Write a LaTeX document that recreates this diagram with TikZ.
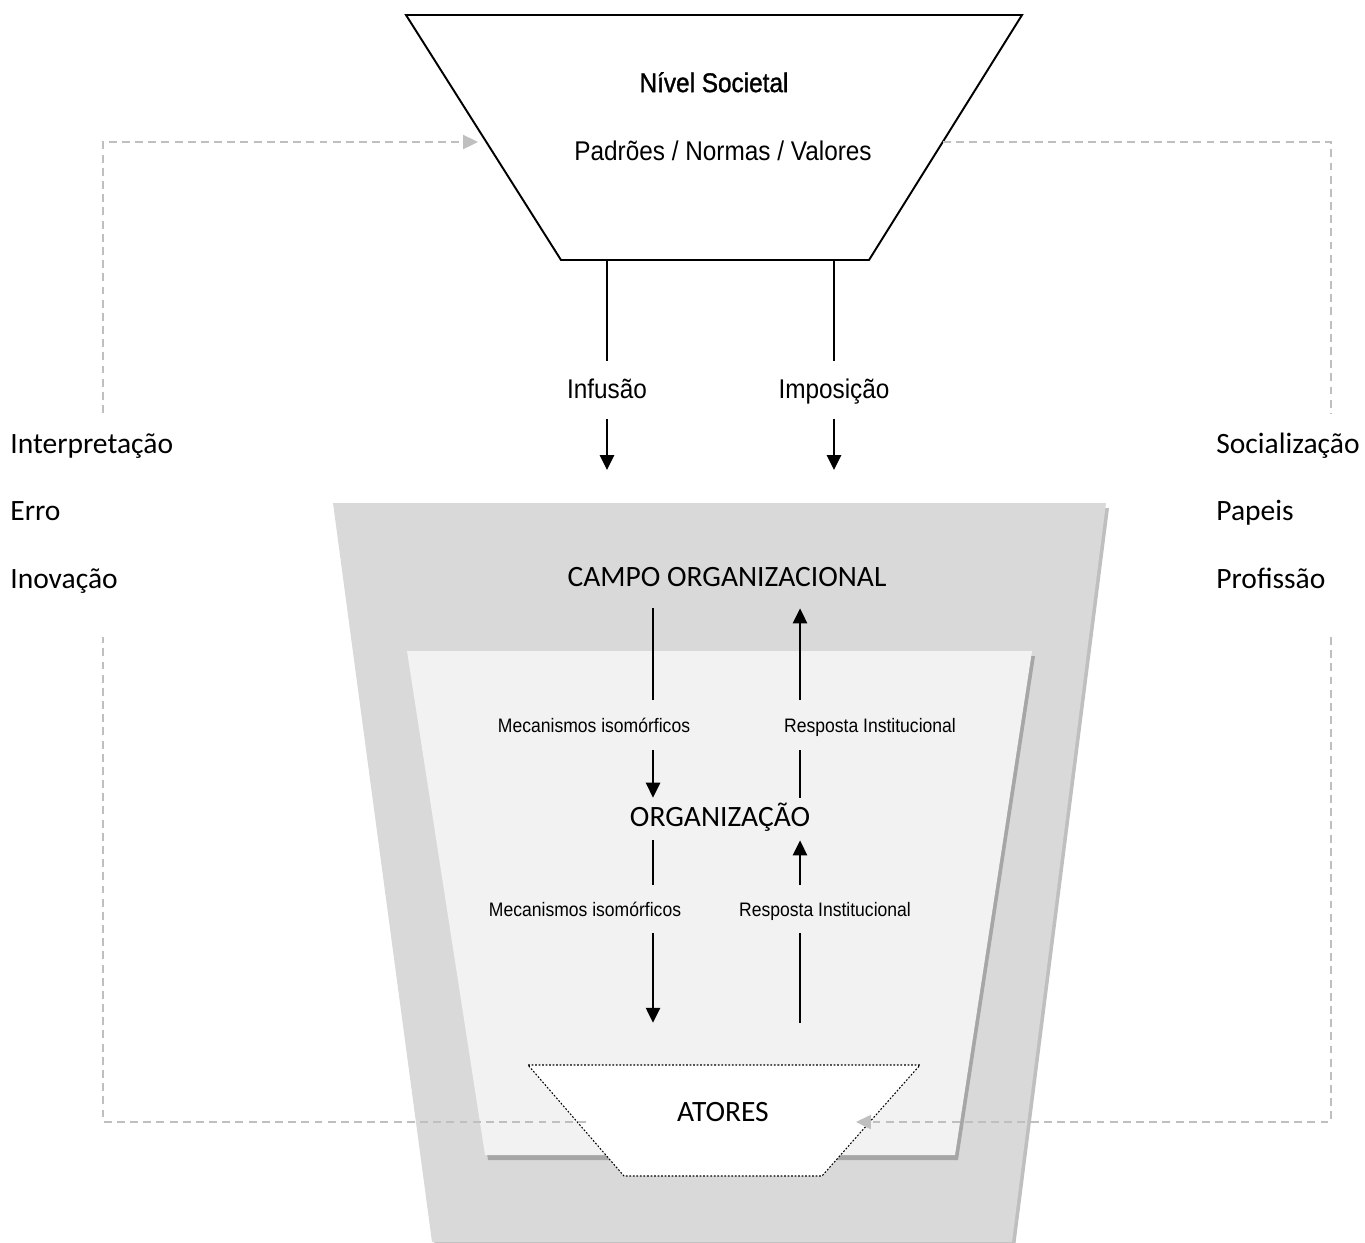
\documentclass[tikz,border=0pt]{standalone}
\usepackage{fontspec}
\setmainfont{Carlito}
\newfontfamily\narrowfont[FakeStretch=0.9]{Liberation Sans}
\newfontfamily\narrowbold[FakeStretch=0.9,FakeBold=1.2]{Liberation Sans}
\usetikzlibrary{arrows.meta, positioning, calc}

\definecolor{campogray}{HTML}{D9D9D9}
\definecolor{orggray}{HTML}{F2F2F2}
\definecolor{camposhade}{HTML}{BFBFBF}
\definecolor{orgshade}{HTML}{A6A6A6}
\definecolor{fbgray}{HTML}{BFBFBF}

\begin{document}
\begin{tikzpicture}[
    x=0.02cm, y=-0.02cm,
    bigtxt/.style={font=\fontsize{16.8}{20}\selectfont, inner sep=0pt, text height=1.06em, text depth=0.2em},
    narrowtxt/.style={font=\narrowfont\fontsize{15.4}{18}\selectfont, inner sep=0pt, text height=1.12em, text depth=0.2em},
    smalltxt/.style={font=\narrowfont\fontsize{11.1}{13}\selectfont, inner sep=0pt, text height=1.06em, text depth=0.2em},
    arrow/.style={line width=1.4pt, -{Triangle[width=8pt,length=8.5pt]}},
    link/.style={line width=1.4pt},
    fback/.style={draw=fbgray, line width=1.1pt, dash pattern=on 4.5pt off 3pt},
    fbarrow/.style={fback, -{Triangle[width=8pt,length=8.5pt]}}
]
    \useasboundingbox (0,0) rectangle (1365,1242);

    % campo organizacional (gray) with shadow
    \fill[camposhade] (336,508) -- (1109,508) -- (1015,1247) -- (435,1247) -- cycle;
    \fill[campogray] (333,503) -- (1106,503) -- (1012,1242) -- (432,1242) -- cycle;
    % organizacao (light) with shadow
    \fill[orgshade] (410,656) -- (1035,656) -- (958,1160) -- (488,1160) -- cycle;
    \fill[orggray] (407,651) -- (1032,651) -- (955,1155) -- (485,1155) -- cycle;
    % atores
    \draw[fill=white, line width=0.6pt, dash pattern=on 1pt off 1pt]
        (528,1065) -- (920,1065) -- (822,1176) -- (624,1176) -- cycle;
    % nivel societal
    \draw[line width=1.1pt, fill=white] (406,15) -- (1022,15) -- (869,260) -- (561,260) -- cycle;

    \coordinate (socL) at (607,260);
    \coordinate (socR) at (834,260);
    \coordinate (infEnd) at (607,470);
    \coordinate (impEnd) at (834,470);
    \coordinate (xl) at (653,0);
    \coordinate (xr) at (800,0);

    \node[narrowtxt, font=\narrowbold\fontsize{15.4}{18}\selectfont] (nivel) at (714,84) {Nível Societal};
    \node[narrowtxt] (padroes) at (723,152) {Padrões / Normas / Valores};

    \node[narrowtxt, minimum height=1.14cm] (infusao) at (607,390) {Infusão};
    \node[narrowtxt, minimum height=1.14cm] (imposicao) at (834,390) {Imposição};

    \node[bigtxt, minimum height=1.16cm] (campo) at (727,579) {CAMPO ORGANIZACIONAL};
    \node[smalltxt, minimum height=1cm] (mecA) at (594,725) {Mecanismos isomórficos};
    \node[smalltxt, minimum height=1cm] (respA) at (870,725) {Resposta Institucional};
    \node[bigtxt, minimum height=0.84cm] (org) at (720,819) {ORGANIZAÇÃO};
    \node[smalltxt, minimum height=0.96cm] (mecB) at (585,909) {Mecanismos isomórficos};
    \node[smalltxt, minimum height=0.96cm] (respB) at (825,909) {Resposta Institucional};
    \node[bigtxt, minimum height=3.64cm] (atores) at (723,1114) {ATORES};

    \node[bigtxt, anchor=base west] (interp) at (10,453) {Interpretação};
    \node[bigtxt, anchor=base west] (erro) at (10,520) {Erro};
    \node[bigtxt, anchor=base west] (inov) at (10,588) {Inovação};
    \node[bigtxt, anchor=base west] (social) at (1216,453) {Socialização};
    \node[bigtxt, anchor=base west] (papeis) at (1216,520) {Papeis};
    \node[bigtxt, anchor=base west] (profis) at (1216,588) {Profissão};

    \coordinate (lTop) at (103,413);
    \coordinate (lBot) at (103,637);
    \coordinate (rTop) at (1331,413);
    \coordinate (rBot) at (1331,637);
    \coordinate (socIn) at (478,142);
    \coordinate (socOut) at (943,142);
    \coordinate (atL) at (586,1122);
    \coordinate (atR) at (856,1122);

    % descida
    \draw[link] (socL) -- (infusao.north);
    \draw[arrow] (infusao.south) -- (infEnd);
    \draw[link] (socR) -- (imposicao.north);
    \draw[arrow] (imposicao.south) -- (impEnd);

    \draw[link] (campo.south -| xl) -- (mecA.north -| xl);
    \draw[arrow] (mecA.south -| xl) -- (org.north -| xl);
    \draw[link] (org.south -| xl) -- (mecB.north -| xl);
    \draw[arrow] (mecB.south -| xl) -- (atores.north -| xl);

    % subida
    \draw[link] (atores.north -| xr) -- (respB.south -| xr);
    \draw[arrow] (respB.north -| xr) -- (org.south -| xr);
    \draw[link] (org.north -| xr) -- (respA.south -| xr);
    \draw[arrow] (respA.north -| xr) -- (campo.south -| xr);

    % retorno
    \draw[fback] (atL) -| (lBot);
    \draw[fbarrow] (lTop) |- (socIn);
    \draw[fback] (socOut) -| (rTop);
    \draw[fbarrow] (rBot) |- (atR);
\end{tikzpicture}
\end{document}
